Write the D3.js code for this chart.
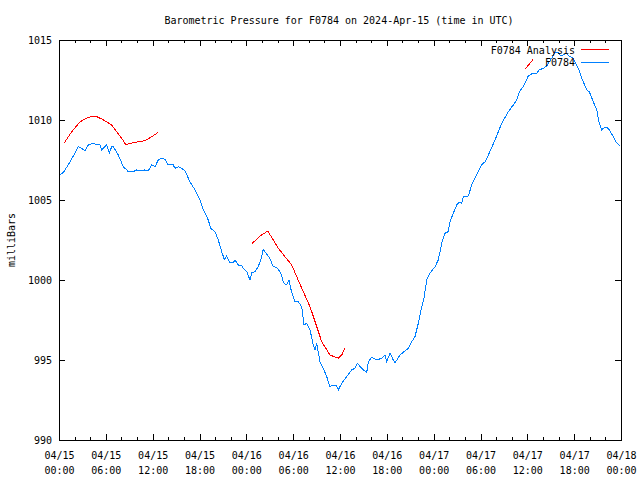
<!DOCTYPE html>
<html>
<head>
<meta charset="utf-8">
<script src="https://cdn.jsdelivr.net/npm/d3@7/dist/d3.min.js"></script>
<style>
  html, body { margin: 0; padding: 0; background: #fff; }
  svg text { font-family: "DejaVu Sans Mono", "Liberation Mono", monospace; font-size: 10px; fill: #000; }
</style>
</head>
<body>
<svg id="chart" width="640" height="480"></svg>
<script>
// ---- Data (hours since 2024-04-15 00:00 UTC, pressure in milliBars) ----
const titleText = "Barometric Pressure for F0784 on 2024-Apr-15 (time in UTC)";
const seriesNames = ["F0784 Analysis", "F0784"];
const seriesColors = ["#ff0000", "#0080ff"];
const yTicks = [990, 995, 1000, 1005, 1010, 1015];
const xTickHours = [0, 6, 12, 18, 24, 30, 36, 42, 48, 54, 60, 66, 72];
const xTickLabels = [
  ["04/15", "00:00"], ["04/15", "06:00"], ["04/15", "12:00"], ["04/15", "18:00"],
  ["04/16", "00:00"], ["04/16", "06:00"], ["04/16", "12:00"], ["04/16", "18:00"],
  ["04/17", "00:00"], ["04/17", "06:00"], ["04/17", "12:00"], ["04/17", "18:00"],
  ["04/18", "00:00"]
];

// Analysis series (null = gap)
const analysisHours = [
  0.68, 1.63, 2.69, 3.55, 4.39, 4.83, 5.47, 6.11, 6.75, 7.39, 8.03, 8.58, 9.10, 9.74, 10.38, 11.02, 11.88, 12.72,
  18.0,
  24.76, 25.75, 26.74, 27.45, 28.10, 28.95, 29.81, 30.45, 31.30, 32.16, 32.71, 33.66, 34.72, 35.78, 36.22, 36.64,
  50.0,
  59.70, 60.76
];
const analysisValues = [
  1008.58, 1009.27, 1009.89, 1010.11, 1010.25, 1010.21, 1010.06, 1009.89, 1009.69, 1009.27, 1008.86, 1008.44, 1008.54, 1008.61, 1008.64, 1008.71, 1008.96, 1009.23,
  null,
  1002.29, 1002.75, 1003.06, 1002.50, 1001.98, 1001.46, 1000.94, 1000.21, 999.27, 998.33, 997.54, 996.14, 995.31, 995.11, 995.31, 995.73,
  null,
  1013.17, 1013.79
];

// Observed series
const obsHours = [
  0.13, 0.64, 1.41, 1.79, 2.47, 2.91, 3.33, 3.75, 4.39, 4.83, 5.25, 5.47, 5.89, 6.11, 6.32, 6.44, 6.75, 6.96,
  7.60, 8.24, 8.67, 8.88, 9.52, 9.95, 10.38, 11.02, 11.44, 11.88, 12.30, 12.72, 13.16, 13.58, 14.00, 14.64,
  14.86, 15.28, 15.72, 16.14, 16.78, 17.42, 18.06, 18.49, 19.13, 19.43, 19.99, 20.41, 20.84, 21.18, 21.48,
  21.91, 22.33, 22.55, 22.97, 23.41, 23.61, 24.05, 24.47, 24.69, 25.11, 25.53, 25.97, 26.17, 26.52, 26.94,
  27.45, 27.89, 28.31, 28.53, 28.74, 29.17, 29.47, 29.68, 29.94, 30.23, 30.66, 31.09, 31.39, 31.73, 32.16,
  32.58, 32.80, 33.01, 33.44, 33.86, 34.30, 34.72, 35.14, 35.58, 35.78, 36.22, 36.86, 37.50, 37.92, 38.22,
  38.78, 39.42, 39.63, 40.06, 40.70, 41.34, 41.77, 41.98, 42.41, 42.83, 43.05, 43.69, 44.33, 44.75, 45.19,
  45.61, 46.03, 46.47, 46.76, 47.11, 47.53, 48.17, 48.59, 49.03, 49.45, 49.87, 50.09, 50.51, 50.95, 51.37,
  51.59, 51.80, 52.44, 52.87, 53.51, 54.15, 54.58, 55.00, 55.86, 56.72, 57.56, 58.20, 58.64, 58.97, 59.48,
  60.12, 60.69, 61.20, 61.53, 62.04, 62.48, 63.12, 63.54, 63.97, 64.18, 64.61, 64.95, 65.47, 65.89, 66.53,
  66.97, 67.61, 67.94, 68.45, 68.89, 69.22, 69.53, 69.73, 70.17, 70.50, 71.01, 71.36, 71.87
];
const obsValues = [
  1006.56, 1006.77, 1007.39, 1007.71, 1008.33, 1008.23, 1008.08, 1008.44, 1008.54, 1008.44, 1008.44, 1008.13, 1008.33, 1008.44, 1008.13, 1007.92, 1008.33, 1008.33,
  1007.81, 1007.08, 1006.88, 1006.77, 1006.77, 1006.88, 1006.83, 1006.88, 1006.83, 1007.19, 1007.08, 1007.50, 1007.61, 1007.54, 1007.19, 1007.19,
  1006.98, 1007.08, 1006.98, 1006.83, 1006.14, 1005.63, 1005.00, 1004.38, 1003.75, 1003.23, 1003.02, 1002.50, 1001.77, 1001.29, 1001.50,
  1001.08, 1001.08, 1001.25, 1000.94, 1000.88, 1000.73, 1000.52, 1000.00, 1000.46, 1000.52, 1000.83, 1001.46, 1001.92, 1001.67, 1001.42,
  1000.83, 1000.79, 1000.52, 1000.31, 999.83, 999.69, 1000.00, 999.48, 999.06, 998.64, 998.64, 998.33, 997.19, 997.29, 996.88,
  995.94, 995.63, 996.04, 994.89, 994.48, 993.96, 993.33, 993.44, 993.38, 993.13, 993.54, 993.96, 994.38, 994.48, 994.79,
  994.48, 994.21, 994.89, 995.17, 995.00, 995.11, 995.31, 994.89, 995.42, 995.00, 994.83, 995.31, 995.58, 995.73, 996.14,
  996.46, 997.29, 998.33, 998.86, 1000.00, 1000.42, 1000.83, 1001.25, 1002.29, 1002.92, 1003.02, 1003.64, 1004.17, 1004.69, 1004.89,
  1004.79, 1005.21, 1005.25, 1005.94, 1006.56, 1007.19, 1007.39, 1007.81, 1008.75, 1009.79, 1010.52, 1010.94, 1011.25, 1011.77, 1012.08,
  1012.75, 1012.92, 1012.92, 1013.13, 1013.23, 1013.38, 1013.86, 1014.21, 1014.21, 1014.06, 1014.06, 1014.17, 1013.96, 1013.86, 1013.23,
  1012.61, 1011.88, 1011.77, 1011.14, 1010.63, 1009.79, 1009.38, 1009.48, 1009.54, 1009.38, 1008.96, 1008.64, 1008.38
];

// ---- Drawing ----
const startMs = Date.UTC(2024, 3, 15, 0, 0);
const toDate = h => new Date(startMs + h * 3600e3);

const svg = d3.select("#chart");
const plotLeft = 59, plotRight = 621, plotTop = 40, plotBottom = 440;

const x = d3.scaleUtc().domain([toDate(0), toDate(72)]).range([plotLeft, plotRight]);
const y = d3.scaleLinear().domain([990, 1015]).range([plotBottom, plotTop]);

const minorDates = d3.range(0, 73, 2).filter(h => h % 6 !== 0).map(toDate);
const majorDates = xTickHours.map(toDate);

function styleAxis(g) {
  g.select(".domain").remove();
  g.selectAll("line").attr("stroke", "#000").attr("shape-rendering", "crispEdges");
}

// Bottom major with labels
const gBottom = svg.append("g").attr("transform", `translate(0,${plotBottom})`)
  .call(d3.axisBottom(x).tickValues(majorDates).tickSize(-6).tickFormat(() => ""));
styleAxis(gBottom);
gBottom.selectAll(".tick").each(function(d, i) {
  const t = d3.select(this).select("text");
  t.text(null).attr("y", 0).attr("dy", null);
  t.append("tspan").attr("x", 0).attr("y", 19).text(xTickLabels[i][0]);
  t.append("tspan").attr("x", 0).attr("y", 34).text(xTickLabels[i][1]);
});
svg.append("g").attr("transform", `translate(0,${plotBottom})`)
  .call(d3.axisBottom(x).tickValues(minorDates).tickSize(-3).tickFormat(() => ""))
  .call(styleAxis);
// Top
svg.append("g").attr("transform", `translate(0,${plotTop})`)
  .call(d3.axisTop(x).tickValues(majorDates).tickSize(-6).tickFormat(() => ""))
  .call(styleAxis);
svg.append("g").attr("transform", `translate(0,${plotTop})`)
  .call(d3.axisTop(x).tickValues(minorDates).tickSize(-3).tickFormat(() => ""))
  .call(styleAxis);
// Left
const gLeft = svg.append("g").attr("transform", `translate(${plotLeft},0)`)
  .call(d3.axisLeft(y).tickValues(yTicks).tickSize(-6).tickFormat(d3.format("d")));
styleAxis(gLeft);
gLeft.selectAll("text").attr("x", -7).attr("dy", "0.35em");
// Right
svg.append("g").attr("transform", `translate(${plotRight},0)`)
  .call(d3.axisRight(y).tickValues(yTicks).tickSize(-6).tickFormat(() => ""))
  .call(styleAxis);

// Border
svg.append("rect").attr("x", plotLeft + 0.5).attr("y", plotTop + 0.5)
  .attr("width", plotRight - plotLeft).attr("height", plotBottom - plotTop)
  .attr("fill", "none").attr("stroke", "#000").attr("shape-rendering", "crispEdges");

// Lines
const line = d3.line()
  .defined(d => d[1] !== null)
  .x(d => x(toDate(d[0])))
  .y(d => y(d[1]));

const analysisData = analysisHours.map((h, i) => [h, analysisValues[i]]);
const obsData = obsHours.map((h, i) => [h, obsValues[i]]);

svg.append("path").datum(analysisData).attr("d", line)
  .attr("fill", "none").attr("stroke", seriesColors[0]).attr("stroke-width", 1)
  .attr("shape-rendering", "crispEdges");
svg.append("path").datum(obsData).attr("d", line)
  .attr("fill", "none").attr("stroke", seriesColors[1]).attr("stroke-width", 1)
  .attr("shape-rendering", "crispEdges");

// Legend
seriesNames.forEach((name, i) => {
  const ly = 50 + i * 12.5;
  svg.append("text").attr("x", 575).attr("y", ly).attr("dy", "0.35em")
    .attr("text-anchor", "end").text(name);
  svg.append("line").attr("x1", 581).attr("x2", 609).attr("y1", ly - 0.5).attr("y2", ly - 0.5)
    .attr("stroke", seriesColors[i]).attr("shape-rendering", "crispEdges");
});

// Title
svg.append("text").attr("x", 339).attr("y", 20).attr("dy", "0.35em")
  .attr("text-anchor", "middle").text(titleText);

// Y label
svg.append("text").attr("transform", "translate(11,240) rotate(-90)")
  .attr("dy", "0.35em").attr("text-anchor", "middle").text("milliBars");
</script>
</body>
</html>
